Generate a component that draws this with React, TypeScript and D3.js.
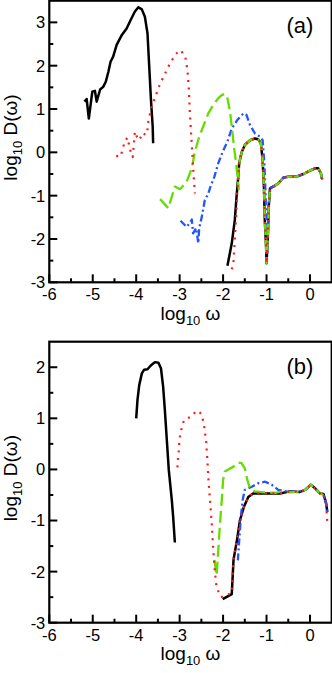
import React from "react";
import * as d3 from "d3";

type P = [number, number];

// Panel (a)
const blackA1: P[] = [[-5.19,1.17],[-5.14,1.23],[-5.09,0.78],[-5.01,1.40],[-4.95,1.42],[-4.91,1.17],[-4.83,1.45],[-4.76,1.51],[-4.70,1.63],[-4.64,1.86],[-4.59,2.09],[-4.53,2.21],[-4.45,2.48],[-4.33,2.71],[-4.22,2.86],[-4.13,3.05],[-4.03,3.25],[-3.95,3.35],[-3.87,3.30],[-3.80,3.13],[-3.74,2.75],[-3.70,1.98],[-3.66,1.21],[-3.62,0.59],[-3.61,0.21]];
const commonA: P[] = [[-1.63,-0.25],[-1.57,0.01],[-1.50,0.17],[-1.38,0.28],[-1.27,0.32],[-1.19,0.30],[-1.13,0.21],[-1.09,-0.18],[-1.06,-0.79],[-1.04,-1.56],[-1.01,-2.18],[-1.0,-2.56],[-0.97,-1.95],[-0.95,-1.26],[-0.92,-0.83],[-0.83,-0.78],[-0.73,-0.72],[-0.61,-0.58],[-0.46,-0.56],[-0.31,-0.56],[-0.15,-0.50],[0.0,-0.42],[0.12,-0.37],[0.19,-0.37],[0.25,-0.48],[0.28,-0.62]];
const blackA2Head: P[] = [[-1.90,-2.62],[-1.80,-2.10],[-1.73,-1.56],[-1.69,-1.02],[-1.65,-0.56]];
const redA1: P[] = [[-4.46,-0.08],[-4.36,-0.10],[-4.31,0.08],[-4.26,0.26],[-4.20,0.34],[-4.16,0.15],[-4.12,-0.02],[-4.08,-0.11],[-4.05,0.24],[-4.03,0.48],[-3.98,0.35],[-3.93,0.28],[-3.85,0.45],[-3.78,0.40],[-3.74,0.53],[-3.72,0.73],[-3.68,0.90],[-3.64,1.07],[-3.57,1.25],[-3.51,1.42],[-3.44,1.61],[-3.36,1.76],[-3.28,1.94],[-3.20,2.09],[-3.09,2.27],[-2.98,2.36],[-2.87,2.21],[-2.82,1.90],[-2.79,1.5],[-2.77,1.0],[-2.74,0.5],[-2.71,0.0],[-2.68,-0.5],[-2.65,-0.95]];
const redA2Head: P[] = [[-1.80,-2.70],[-1.76,-2.50],[-1.73,-2.0],[-1.70,-1.5],[-1.68,-1.0],[-1.65,-0.56]];
const greenAHead: P[] = [[-3.45,-1.08],[-3.26,-1.29],[-3.11,-0.79],[-2.99,-0.85],[-2.84,-0.68],[-2.72,-0.37],[-2.65,0.01],[-2.55,0.36],[-2.46,0.59],[-2.34,0.90],[-2.23,1.09],[-2.11,1.25],[-2.03,1.32],[-1.96,1.35],[-1.90,1.25],[-1.84,0.94],[-1.79,0.51],[-1.75,0.13],[-1.70,-0.25],[-1.66,-0.64],[-1.64,-0.85],[-1.65,-0.56]];
const blueAHead: P[] = [[-2.98,-1.58],[-2.84,-1.72],[-2.78,-1.65],[-2.72,-1.55],[-2.69,-1.87],[-2.62,-1.75],[-2.57,-2.10],[-2.55,-1.75],[-2.49,-1.49],[-2.42,-1.10],[-2.34,-0.95],[-2.29,-0.79],[-2.20,-0.56],[-2.11,-0.25],[-2.01,0.01],[-1.90,0.25],[-1.80,0.55],[-1.67,0.75],[-1.53,0.90],[-1.46,0.86],[-1.38,0.63],[-1.27,0.44],[-1.15,0.36],[-1.09,0.28],[-1.05,-0.25],[-1.02,-1.02],[-1.0,-1.94],[-0.98,-2.33],[-0.95,-1.26]];

// Panel (b)
const blackB1: P[] = [[-4.0,1.0],[-3.97,1.36],[-3.93,1.65],[-3.87,1.88],[-3.82,1.95],[-3.74,1.96],[-3.67,2.03],[-3.57,2.10],[-3.49,2.09],[-3.43,1.98],[-3.38,1.62],[-3.34,1.16],[-3.30,0.64],[-3.25,-0.01],[-3.18,-0.60],[-3.15,-0.92],[-3.11,-1.43]];
const commonB: P[] = [[-1.76,-1.77],[-1.68,-1.38],[-1.61,-0.99],[-1.52,-0.73],[-1.42,-0.54],[-1.31,-0.47],[-1.0,-0.47],[-0.69,-0.47],[-0.46,-0.43],[-0.23,-0.44],[-0.11,-0.40],[0.02,-0.30],[0.12,-0.37],[0.23,-0.47],[0.31,-0.48],[0.37,-0.66]];
const blackB2Head: P[] = [[-2.01,-2.54],[-1.80,-2.44]];
const blackB2Tail: P[] = [[0.40,-0.83]];
const redB: P[] = [[-3.05,0.04],[-3.04,0.20],[-3.02,0.36],[-3.01,0.51],[-2.99,0.66],[-2.95,0.82],[-2.90,0.97],[-2.74,1.03],[-2.61,1.15],[-2.55,1.13],[-2.49,1.07],[-2.44,0.87],[-2.39,0.55],[-2.36,0.17],[-2.34,-0.16],[-2.30,-0.62],[-2.26,-1.07],[-2.23,-1.53],[-2.19,-1.99],[-2.15,-2.31],[-2.05,-2.50],[-1.80,-2.42]];
const redBTail: P[] = [[0.40,-1.05]];
const greenB: P[] = [[-2.20,-1.77],[-2.15,-2.07],[-2.11,-1.58],[-2.07,-1.05],[-2.03,-0.60],[-2.0,-0.21],[-1.96,-0.04],[-1.88,0.0],[-1.77,0.05],[-1.65,0.13],[-1.58,0.13],[-1.50,0.02],[-1.44,-0.21],[-1.38,-0.37],[-1.27,-0.43],[-1.07,-0.45],[-0.80,-0.46],[-0.60,-0.42],[-0.46,-0.45],[-0.30,-0.44],[-0.11,-0.40],[0.02,-0.30],[0.12,-0.37],[0.23,-0.47],[0.31,-0.50]];
const blueB: P[] = [[-1.66,-1.78],[-1.63,-1.40],[-1.59,-0.92],[-1.55,-0.60],[-1.50,-0.40],[-1.34,-0.34],[-1.19,-0.27],[-1.03,-0.24],[-0.88,-0.30],[-0.73,-0.40],[-0.54,-0.43],[-0.30,-0.44],[-0.11,-0.40],[0.02,-0.30],[0.12,-0.37],[0.23,-0.47],[0.31,-0.50],[0.37,-0.66],[0.40,-0.87]];

const xTicks = [-6, -5, -4, -3, -2, -1, 0];
const yTicksA = [-3, -2, -1, 0, 1, 2, 3];
const yTicksB = [-3, -2, -1, 0, 1, 2];

const BLACK = "#000";
const RED = "#ff1a1a";
const GREEN = "#66dd00";
const BLUE = "#2255ff";

type Series = { pts: P[]; color: string; dash: string; width: number };

const FONT = "'Liberation Sans', Arial, Helvetica, sans-serif";

function Panel({ top, bottom, yDomain, yTicks, series, label }: { top: number; bottom: number; yDomain: [number, number]; yTicks: number[]; series: Series[]; label: string }) {
  const left = 49.3, right = 331.7;
  const x = d3.scaleLinear().domain([-6, 0.5]).range([left, right]);
  const y = d3.scaleLinear().domain(yDomain).range([bottom, top]);
  const line = d3.line<P>().x(d => x(d[0])).y(d => y(d[1]));
  const xMinor = d3.range(-5.5, 0.5, 1);
  const yMinor = d3.range(yDomain[0] + 0.5, yDomain[1], 1);
  const midY = (top + bottom) / 2;
  return (
    <g>
      {series.map((s, i) => (
        <path key={i} d={line(s.pts) || ""} fill="none" stroke={s.color} strokeWidth={s.width} strokeDasharray={s.dash} strokeLinejoin="round" />
      ))}
      <rect x={left} y={top} width={right - left} height={bottom - top} fill="none" stroke="#000" strokeWidth={2.2} />
      {xTicks.map(t => (
        <g key={"x" + t}>
          <line x1={x(t)} x2={x(t)} y1={bottom} y2={bottom - 8} stroke="#000" strokeWidth={2} />
          <text x={x(t)} y={bottom + 18} textAnchor="middle" fontSize={16.5} fontFamily={FONT}>{t}</text>
        </g>
      ))}
      {xMinor.map(t => (
        <line key={"xm" + t} x1={x(t)} x2={x(t)} y1={bottom} y2={bottom - 4} stroke="#000" strokeWidth={2} />
      ))}
      {yTicks.map(t => (
        <g key={"y" + t}>
          <line x1={left} x2={left + 8} y1={y(t)} y2={y(t)} stroke="#000" strokeWidth={2} />
          <text x={left - 4} y={y(t)} dy="0.36em" textAnchor="end" fontSize={16.5} fontFamily={FONT}>{t}</text>
        </g>
      ))}
      {yMinor.map(t => (
        <line key={"ym" + t} x1={left} x2={left + 4} y1={y(t)} y2={y(t)} stroke="#000" strokeWidth={2} />
      ))}
      <text x={300} y={top + 32} textAnchor="middle" fontSize={22} fontFamily={FONT}>{label}</text>
      <text transform={`translate(17,${midY - 4}) rotate(-90)`} textAnchor="middle" fontSize={19} fontFamily={FONT}>
        <tspan>log</tspan><tspan dy={5} fontSize={13}>10</tspan><tspan dy={-5}> D(ω)</tspan>
      </text>
      <text x={(left + right) / 2} y={bottom + 37.5} textAnchor="middle" fontSize={19} fontFamily={FONT}>
        <tspan>log</tspan><tspan dy={5} fontSize={13}>10</tspan><tspan dy={-5}> ω</tspan>
      </text>
    </g>
  );
}

export default function App() {
  const dotted = "2 5.5";
  const dashed = "12 5";
  const dashdot = "7 3 2 3";
  const seriesA: Series[] = [
    { pts: blackA1, color: BLACK, dash: "", width: 2.5 },
    { pts: [...blackA2Head, ...commonA], color: BLACK, dash: "", width: 2.5 },
    { pts: [...blueAHead, ...commonA.slice(14)], color: BLUE, dash: dashdot, width: 2.3 },
    { pts: [...greenAHead, ...commonA], color: GREEN, dash: dashed, width: 2.3 },
    { pts: redA1, color: RED, dash: dotted, width: 2.2 },
    { pts: [...redA2Head, ...commonA], color: RED, dash: dotted, width: 2.2 },
  ];
  const seriesB: Series[] = [
    { pts: blackB1, color: BLACK, dash: "", width: 2.5 },
    { pts: [...blackB2Head, ...commonB, ...blackB2Tail], color: BLACK, dash: "", width: 2.5 },
    { pts: blueB, color: BLUE, dash: dashdot, width: 2.3 },
    { pts: greenB, color: GREEN, dash: dashed, width: 2.3 },
    { pts: [...redB, ...commonB, ...redBTail], color: RED, dash: dotted, width: 2.2 },
  ];
  return (
    <svg width={332} height={673} style={{ position: "absolute", left: 0, top: 0, background: "#fff" }}>
      <Panel top={0.7} bottom={282.3} yDomain={[-3, 3.5]} yTicks={yTicksA} series={seriesA} label="(a)" />
      <Panel top={341.7} bottom={622.7} yDomain={[-3, 2.5]} yTicks={yTicksB} series={seriesB} label="(b)" />
    </svg>
  );
}
